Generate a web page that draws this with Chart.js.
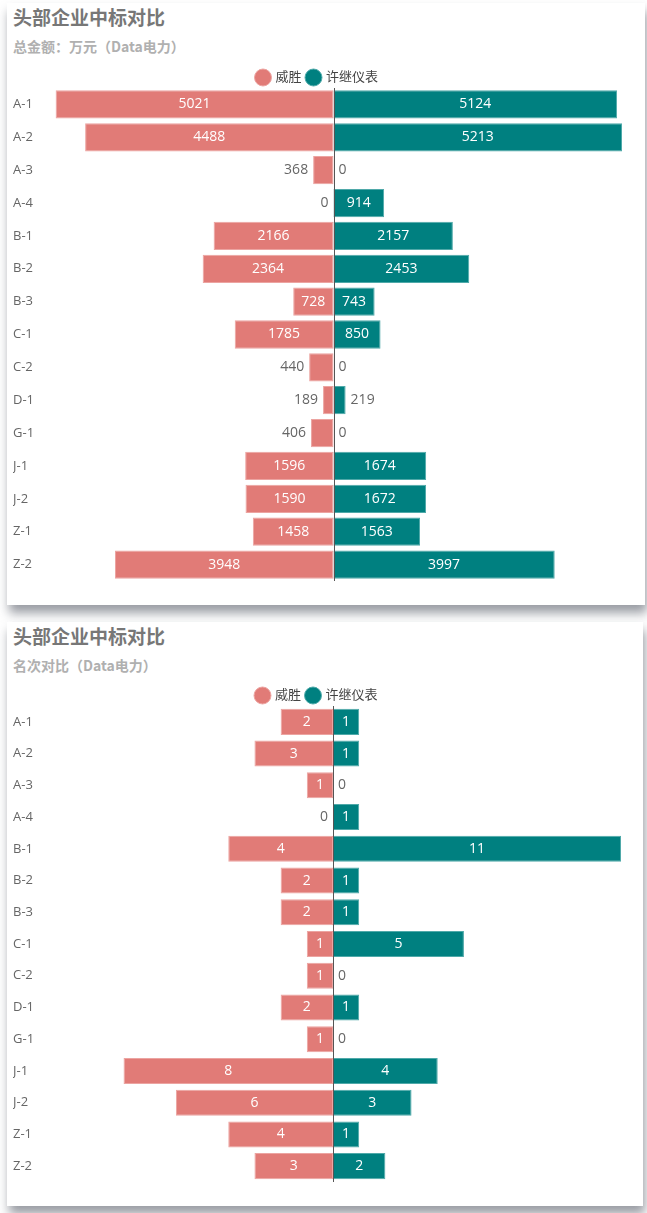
<!DOCTYPE html>
<html>
<head>
<meta charset="utf-8">
<script src="https://cdn.jsdelivr.net/npm/chart.js@4.4.1/dist/chart.umd.min.js"></script>
<style>
   html, body { margin: 0; padding: 0; background: #fff; }
   body { width: 647px; height: 1213px; position: relative; overflow: hidden;
      font-family: "Open Sans", "Noto Sans CJK SC", sans-serif; }
   .card { position: absolute; left: 7px; background: #fff;
      box-shadow: 2px 8px 10px rgba(70, 74, 88, 0.55); }
   .title { position: absolute; left: 6px; top: 0px; font-size: 19px; font-weight: bold; color: #777;
      font-family: "Noto Sans CJK SC", sans-serif; }
   .sub { position: absolute; left: 6px; top: 33px; font-size: 14px; font-weight: bold; color: #b0b0b0;
      font-family: "Noto Sans CJK SC", sans-serif; }
   .wrap { position: absolute; left: 0; right: 0; }
</style>
</head>
<body>
<div class="card" id="card1" style="top:3px;width:638px;height:602px;">
   <div class="title">头部企业中标对比</div>
   <div class="sub">总金额：万元（Data电力）</div>
   <div class="wrap" style="top:62px;height:540px;"><canvas id="amountChart"></canvas></div>
</div>
<div class="card" id="card2" style="top:622px;width:636px;height:584px;">
   <div class="title">头部企业中标对比</div>
   <div class="sub">名次对比（Data电力）</div>
   <div class="wrap" style="top:61px;height:523px;"><canvas id="countChart"></canvas></div>
</div>
<script>
const categories = ["A-1", "A-2", "A-3", "A-4", "B-1", "B-2", "B-3", "C-1", "C-2", "D-1", "G-1", "J-1", "J-2", "Z-1", "Z-2"];
const seriesNames = ["威胜", "许继仪表"];

const amountWeisheng = [5021, 4488, 368, 0, 2166, 2364, 728, 1785, 440, 189, 406, 1596, 1590, 1458, 3948];
const amountXuji = [5124, 5213, 0, 914, 2157, 2453, 743, 850, 0, 219, 0, 1674, 1672, 1563, 3997];

const countWeisheng = [2, 3, 1, 0, 4, 2, 2, 1, 1, 2, 1, 8, 6, 4, 3];
const countXuji = [1, 1, 0, 1, 11, 1, 1, 5, 0, 1, 0, 4, 3, 1, 2];

const RED = "#e17b77";
const TEAL = "#008080";
const FONT = '"Open Sans", "Noto Sans CJK SC", sans-serif';

// labels inside the bar when they fit, otherwise just outside it
const barLabels = {
   id: "barLabels",
   afterDatasetsDraw(chart) {
      const ctx = chart.ctx;
      const xs = chart.scales.x;
      const zero = xs.getPixelForValue(0);
      ctx.save();
      ctx.font = `14px ${FONT}`;
      ctx.textBaseline = "middle";
      chart.data.datasets.forEach((ds, di) => {
         const meta = chart.getDatasetMeta(di);
         meta.data.forEach((bar, i) => {
            const text = String(Math.abs(ds.data[i]));
            const tw = ctx.measureText(text).width;
            const end = xs.getPixelForValue(ds.data[i]);
            const left = Math.min(zero, end);
            const right = Math.max(zero, end);
            if (right - left >= tw + 8) {
               ctx.fillStyle = "#fff";
               ctx.textAlign = "center";
               ctx.fillText(text, (left + right) / 2, bar.y);
            } else if (di === 0) {
               ctx.fillStyle = "#666";
               ctx.textAlign = "right";
               ctx.fillText(text, left - 5, bar.y);
            } else {
               ctx.fillStyle = "#666";
               ctx.textAlign = "left";
               ctx.fillText(text, right + 5, bar.y);
            }
         });
      });
      ctx.restore();
   },
};

const centerLine = {
   id: "centerLine",
   afterDatasetsDraw(chart) {
      const { ctx, chartArea, scales } = chart;
      const x = Math.round(scales.x.getPixelForValue(0)) + 0.5;
      ctx.save();
      ctx.strokeStyle = "#555";
      ctx.lineWidth = 1;
      ctx.beginPath();
      ctx.moveTo(x, chartArea.top);
      ctx.lineTo(x, chartArea.bottom);
      ctx.stroke();
      ctx.restore();
   },
};

function legendTrim(cut) {
   return {
      id: "legendTrim",
      beforeInit(chart) {
         const fit = chart.legend.fit;
         chart.legend.fit = function () {
            fit.call(this);
            this.height -= cut;
         };
      },
   };
}

function drawButterfly(canvasId, leftVals, rightVals, barPct, pad, cut) {
   const maxVal = Math.max(...leftVals, ...rightVals);
   return new Chart(document.getElementById(canvasId).getContext("2d"), {
      type: "bar",
      data: {
         labels: categories,
         datasets: [{
            label: seriesNames[0],
            data: leftVals.map(v => -v),
            backgroundColor: RED,
            borderColor: "#eca4a1",
            borderWidth: 1,
            borderSkipped: false,
         }, {
            label: seriesNames[1],
            data: rightVals,
            backgroundColor: TEAL,
            borderColor: "#4fa9a9",
            borderWidth: 1,
            borderSkipped: false,
         }],
      },
      options: {
         indexAxis: "y",
         responsive: true,
         maintainAspectRatio: false,
         animation: false,
         datasets: { bar: { barPercentage: barPct, categoryPercentage: 1 } },
         layout: { padding: pad },
         plugins: {
            tooltip: { enabled: false },
            legend: {
               position: "top",
               labels: {
                  usePointStyle: true,
                  pointStyle: "circle",
                  boxWidth: 12,
                  boxHeight: 12,
                  padding: 6,
                  color: "#444",
                  font: { size: 13, family: FONT },
               },
            },
         },
         scales: {
            x: {
               stacked: true,
               min: -maxVal,
               max: maxVal,
               display: false,
               grid: { display: false },
            },
            y: {
               stacked: true,
               grid: { display: false },
               border: { display: false },
               ticks: { color: "#666", font: { size: 13, family: FONT }, crossAlign: "far", padding: 0 },
               afterFit(scale) { scale.width = 32; },
            },
         },
      },
      plugins: [barLabels, centerLine, legendTrim(cut)],
   });
}

drawButterfly("amountChart", amountWeisheng, amountXuji, 0.86, { left: 6, right: 23, top: 0, bottom: 24 }, 6);
drawButterfly("countChart", countWeisheng, countXuji, 0.82, { left: 6, right: 22, top: 0, bottom: 24 }, 6);
</script>
</body>
</html>
